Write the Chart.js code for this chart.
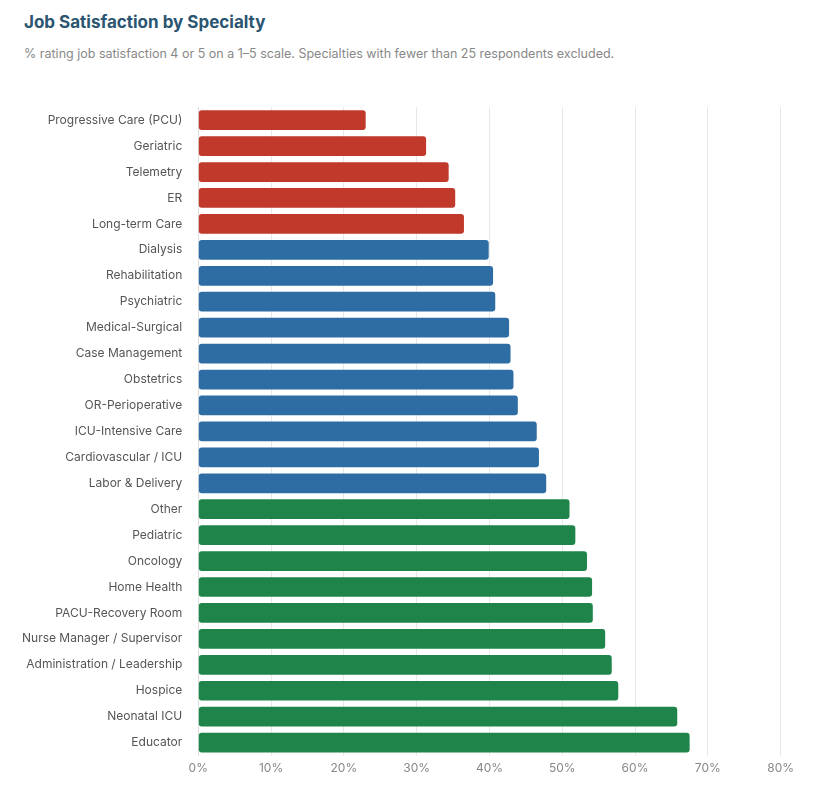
<!DOCTYPE html>
<html><head><meta charset="utf-8">
<script src="https://cdn.jsdelivr.net/npm/chart.js@4"></script>
<style>
body{margin:0;background:#fff;font-family:Inter,"Noto Sans",sans-serif;}
#t{position:absolute;left:24px;top:12px;font-size:17px;font-weight:700;color:#2b5570;}
#s{position:absolute;left:24px;top:46px;font-size:12.5px;color:#888;}
#w{position:absolute;left:0;top:92px;width:800px;height:690px;}
</style></head><body>
<div id="t">Job Satisfaction by Specialty</div>
<div id="s">% rating job satisfaction 4 or 5 on a 1–5 scale. Specialties with fewer than 25 respondents excluded.</div>
<div id="w"><canvas id="c"></canvas></div>
<script>
const categories=["Progressive Care (PCU)","Geriatric","Telemetry","ER","Long-term Care","Dialysis","Rehabilitation","Psychiatric","Medical-Surgical","Case Management","Obstetrics","OR-Perioperative","ICU-Intensive Care","Cardiovascular / ICU","Labor & Delivery","Other","Pediatric","Oncology","Home Health","PACU-Recovery Room","Nurse Manager / Supervisor","Administration / Leadership","Hospice","Neonatal ICU","Educator"];
const values=[23.0,31.3,34.4,35.3,36.5,39.9,40.5,40.8,42.7,42.9,43.3,43.9,46.5,46.8,47.8,51.0,51.8,53.4,54.1,54.2,55.9,56.8,57.7,65.8,67.5];
const groups=["low","low","low","low","low","mid","mid","mid","mid","mid","mid","mid","mid","mid","mid","high","high","high","high","high","high","high","high","high","high"];
const groupColors={low:"#c0392b",mid:"#2e6da4",high:"#1e8449"};
const xTicks=[0,10,20,30,40,50,60,70,80];
new Chart(document.getElementById('c'),{
 type:'bar',
 data:{labels:categories,datasets:[{data:values,backgroundColor:groups.map(g=>groupColors[g]),borderRadius:3,borderSkipped:false,barPercentage:0.76,categoryPercentage:1}]},
 options:{indexAxis:'y',responsive:true,maintainAspectRatio:false,animation:false,
  layout:{padding:{left:14,right:18,top:0,bottom:0}},
  plugins:{legend:{display:false},tooltip:{enabled:false}},
  scales:{
   x:{min:0,max:80,afterBuildTicks:a=>{a.ticks=xTicks.map(v=>({value:v}));},
      ticks:{callback:v=>v+'%',color:'#888',font:{family:'Inter',size:12},padding:6},
      grid:{color:'#e8e8e8',drawTicks:false},border:{display:false}},
   y:{ticks:{color:'#555',font:{family:'Inter',size:12},padding:8},
      grid:{display:false},border:{color:'#ddd'}}
  }}
});
</script></body></html>
